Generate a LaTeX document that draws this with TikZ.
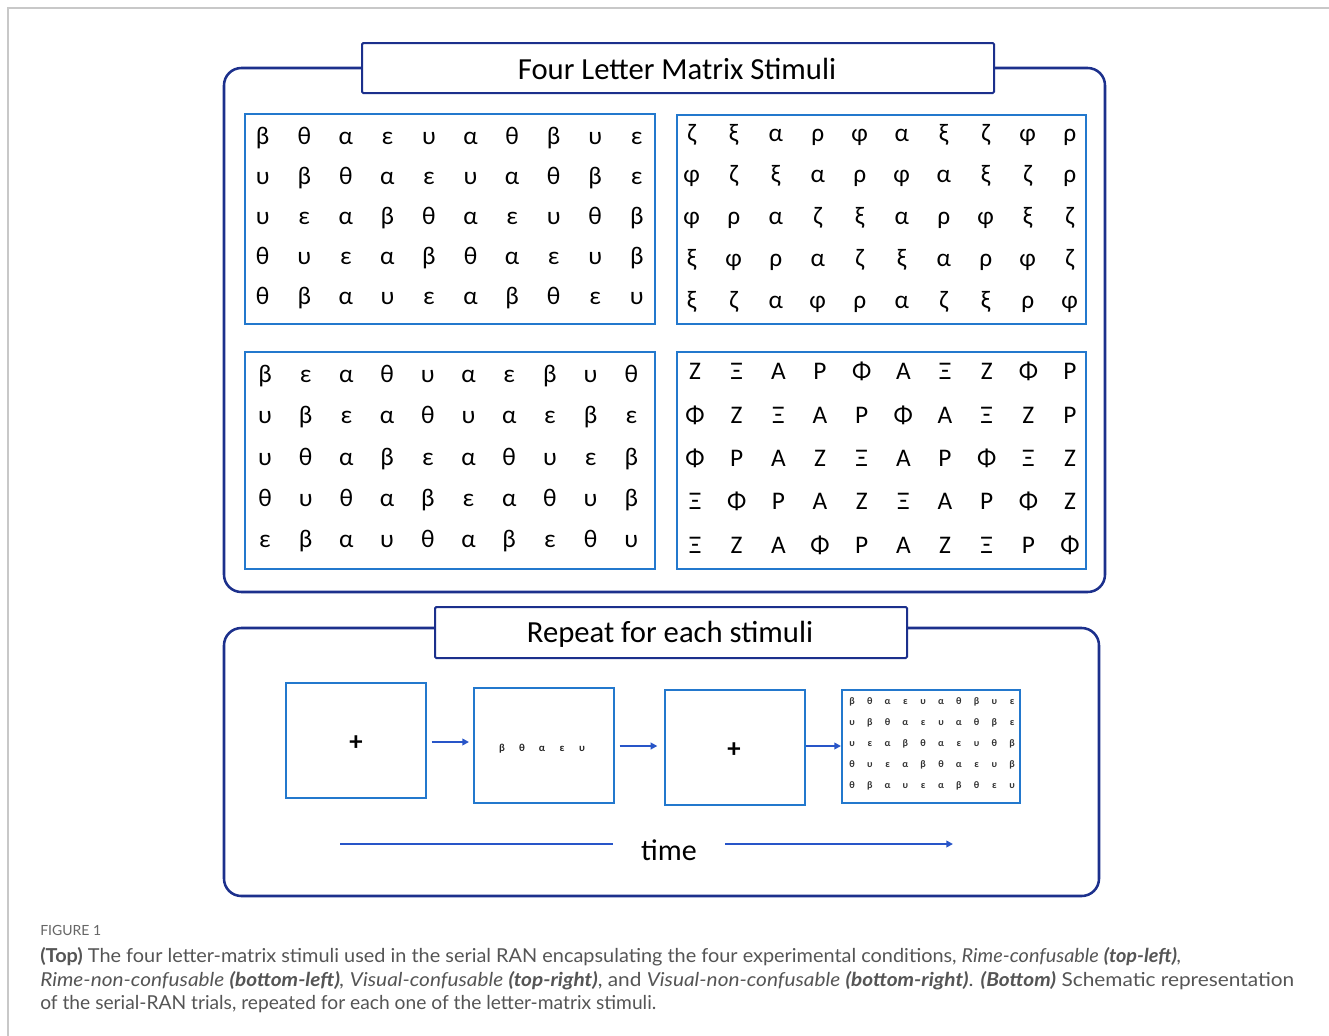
\documentclass[tikz,border=0pt]{standalone}
\usepackage{fontspec}
\newfontfamily\calib{Carlito}
\newfontfamily\capfont{Lato}
\usetikzlibrary{arrows.meta}
\definecolor{navy}{RGB}{28,48,140}
\definecolor{boxblue}{RGB}{35,120,205}
\definecolor{arrblue}{RGB}{40,85,200}
\definecolor{capgray}{RGB}{85,85,85}
\definecolor{framegray}{RGB}{200,200,200}
\newcommand{\drawgrid}[7]{%
  \foreach \rw [count=\r] in {#7} {
    \foreach \ch [count=\c] in \rw {
      \node[#2] (#1-\r-\c) at ({#3+(\c-1)*#4},{#5+(\r-1)*#6}) {\ch};
    }
  }
}
\begin{document}
\begin{tikzpicture}[x=0.75pt,y=-0.75pt,
  frame/.style={draw=navy, line width=1.9pt, rounded corners=13pt},
  titlebox/.style={draw=navy, line width=1.5pt, fill=white, rounded corners=1pt},
  titletext/.style={font=\calib\fontsize{23}{26}\selectfont, inner sep=0pt},
  matbox/.style={draw=boxblue, line width=2pt},
  letter/.style={font=\calib\fontsize{19}{22}\selectfont, inner sep=0pt, anchor=base},
  tinyletter/.style={font=\calib\bfseries\fontsize{7.5}{9}\selectfont, inner sep=0pt, anchor=base, text=black!80},
  smallletter/.style={font=\calib\bfseries\fontsize{8}{10}\selectfont, inner sep=0pt, anchor=base, text=black!85},
  stepbox/.style={draw=boxblue, line width=1.5pt, fill=white, minimum width=105pt, minimum height=86.25pt, inner sep=0pt},
  plus/.style={font=\calib\bfseries\fontsize{20}{22}\selectfont, inner sep=0pt},
  arr/.style={draw=arrblue, line width=1.5pt, -{Triangle[length=5pt,width=5pt]}},
  tline/.style={draw=arrblue, line width=1.5pt},
  captext/.style={font=\capfont\fontsize{14.4}{17}\selectfont, text=capgray, anchor=west, inner sep=0pt}
]
\useasboundingbox (0,0) rectangle (1329,1036);
\fill[white] (0,0) rectangle (1329,1036);
\draw[framegray, line width=0.8pt] (1329,8) -- (8,8) -- (8,1036);

% ---------- top panel ----------
\draw[frame] (224,68) rectangle (1105,592);
\draw[titlebox] (362,43) rectangle (994,93);
\node[titletext] (toptitle) at (677,69) {Four Letter Matrix Stimuli};

\draw[matbox] (245,114) rectangle (655,324);
\draw[matbox] (677,115) rectangle (1086,324);
\draw[matbox] (245,352) rectangle (655,569);
\draw[matbox] (677,352) rectangle (1086,569);

\drawgrid{tl}{letter}{262.7}{41.56}{144.2}{40}{
  {β,θ,α,ε,υ,α,θ,β,υ,ε},
  {υ,β,θ,α,ε,υ,α,θ,β,ε},
  {υ,ε,α,β,θ,α,ε,υ,θ,β},
  {θ,υ,ε,α,β,θ,α,ε,υ,β},
  {θ,β,α,υ,ε,α,β,θ,ε,υ}}
\drawgrid{tr}{letter}{691.7}{42.0}{141}{41.9}{
  {ζ,ξ,α,ρ,φ,α,ξ,ζ,φ,ρ},
  {φ,ζ,ξ,α,ρ,φ,α,ξ,ζ,ρ},
  {φ,ρ,α,ζ,ξ,α,ρ,φ,ξ,ζ},
  {ξ,φ,ρ,α,ζ,ξ,α,ρ,φ,ζ},
  {ξ,ζ,α,φ,ρ,α,ζ,ξ,ρ,φ}}
\drawgrid{bl}{letter}{265}{40.7}{382.7}{41.25}{
  {β,ε,α,θ,υ,α,ε,β,υ,θ},
  {υ,β,ε,α,θ,υ,α,ε,β,ε},
  {υ,θ,α,β,ε,α,θ,υ,ε,β},
  {θ,υ,θ,α,β,ε,α,θ,υ,β},
  {ε,β,α,υ,θ,α,β,ε,θ,υ}}
\drawgrid{br}{letter}{695}{41.67}{379.9}{43.3}{
  {Ζ,Ξ,Α,Ρ,Φ,Α,Ξ,Ζ,Φ,Ρ},
  {Φ,Ζ,Ξ,Α,Ρ,Φ,Α,Ξ,Ζ,Ρ},
  {Φ,Ρ,Α,Ζ,Ξ,Α,Ρ,Φ,Ξ,Ζ},
  {Ξ,Φ,Ρ,Α,Ζ,Ξ,Α,Ρ,Φ,Ζ},
  {Ξ,Ζ,Α,Φ,Ρ,Α,Ζ,Ξ,Ρ,Φ}}

% ---------- bottom panel ----------
\draw[frame] (224,628) rectangle (1099,896);
\draw[titlebox] (435,607) rectangle (907,658);
\node[titletext] (bottitle) at (670,634) {Repeat for each stimuli};

\node[stepbox] (b1) at (356,740.5) {};
\node[stepbox] (b2) at (544,745.5) {};
\node[stepbox] (b3) at (735,747.5) {};
\node[stepbox, minimum width=133.5pt, minimum height=84.75pt] (b4) at (931,746.5) {};
\node[plus] (p1) at (356,743) {+};
\node[plus] (p3) at (734,750) {+};

\drawgrid{sm}{smallletter}{502}{20}{751}{0}{{β,θ,α,ε,υ}}
\drawgrid{tiny}{tinyletter}{852}{17.8}{704.5}{21}{
  {β,θ,α,ε,υ,α,θ,β,υ,ε},
  {υ,β,θ,α,ε,υ,α,θ,β,ε},
  {υ,ε,α,β,θ,α,ε,υ,θ,β},
  {θ,υ,ε,α,β,θ,α,ε,υ,β},
  {θ,β,α,υ,ε,α,β,θ,ε,υ}}

\draw[arr] ([xshift=3.5pt]b1.east |- 0,742) -- ([xshift=-3pt]b2.west |- 0,742);
\draw[arr] ([xshift=3.5pt]b2.east |- 0,746) -- ([xshift=-5pt]b3.west |- 0,746);
\draw[arr] (b3.east |- 0,746) -- (b4.west |- 0,746);

\coordinate (tstart) at (340,844);
\coordinate (tend) at (953,844);
\node[font=\calib\fontsize{22.5}{24}\selectfont, inner xsep=21pt, inner ysep=0pt] (time) at (669,850) {time};
\draw[tline] (tstart) -- (tstart -| time.west);
\draw[arr] (time.east |- tstart) -- (tend);

% ---------- caption ----------
\node[captext, font=\capfont\fontsize{10.5}{12}\selectfont, text=black!60] (figlabel) at (40,930) {FIGURE 1};
\node[captext] (cap1) at (40,957) {\scalebox{1.036}[1]{\textbf{(Top)} The four letter-matrix stimuli used in the serial RAN encapsulating the four experimental conditions, \textit{Rime-confusable} \textbf{\textit{(top-left)}}\textit{,}}};
\node[captext] (cap2) at (40,981) {\scalebox{1.085}[1]{\textit{Rime-non-confusable} \textbf{\textit{(bottom-left)}}\textit{,} \textit{Visual-confusable} \textbf{\textit{(top-right)}}, and \textit{Visual-non-confusable} \textbf{\textit{(bottom-right)}}. \textbf{\textit{(Bottom)}} Schematic representation}};
\node[captext] (cap3) at (40,1004) {of the serial-RAN trials, repeated for each one of the letter-matrix stimuli.};
\end{tikzpicture}
\end{document}
